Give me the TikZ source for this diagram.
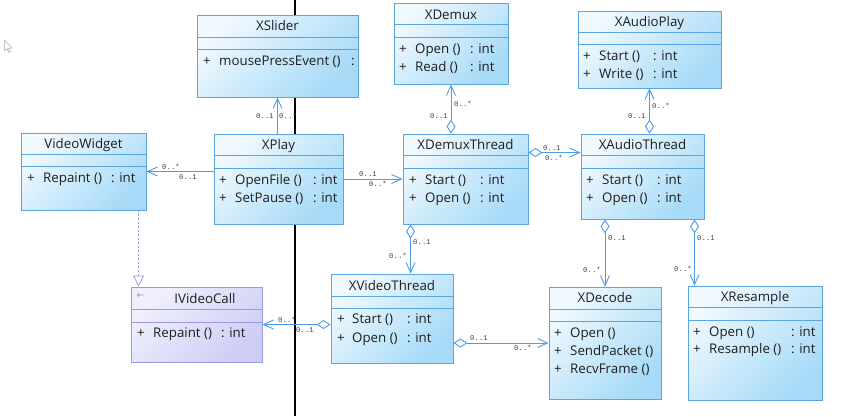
\documentclass[tikz,border=0pt]{standalone}
\usepackage{fontspec}
\setmainfont{Open Sans}
\newfontfamily\multfont{Liberation Mono}
\usetikzlibrary{arrows.meta,fit,calc}
\definecolor{boxlight}{HTML}{F0F9FE}
\definecolor{boxdark}{HTML}{A6DAF7}
\definecolor{boxline}{HTML}{5AA6E4}
\definecolor{ifclight}{HTML}{F0F0FD}
\definecolor{ifcdark}{HTML}{CDCDF6}
\definecolor{ifcline}{HTML}{9A9AE6}
\definecolor{conn}{HTML}{4C9CE8}
\definecolor{txt}{HTML}{1E1E1E}
\begin{document}
\begin{tikzpicture}[x=1pt,y=-1pt,
  classbox/.style={draw=boxline, line width=0.9pt, inner sep=0pt,
    top color=boxlight, bottom color=boxdark, shading angle=45},
  ifcbox/.style={draw=ifcline, line width=0.9pt, inner sep=0pt,
    top color=ifclight, bottom color=ifcdark, shading angle=45},
  sepline/.style={draw=boxline, line width=0.9pt},
  ifcsep/.style={draw=ifcline, line width=0.9pt},
  title/.style={font=\fontsize{13.3}{15}\selectfont, text=txt, inner sep=0pt, anchor=base, yshift=-4.6pt},
  meth/.style={font=\fontsize{13.3}{15}\selectfont, text=txt, inner sep=0pt, anchor=base west, yshift=-4.6pt},
  mult/.style={font=\multfont\fontsize{7.3}{8}\selectfont, text=txt!85, inner sep=0pt, anchor=base, yshift=-2.4pt},
  assoc/.style={draw=conn, line width=0.9pt, -{Straight Barb[length=10pt,width=9pt]}},
  agg/.style={draw=conn, line width=0.9pt,
    {Diamond[fill=white,length=14pt,width=9pt]}-{Straight Barb[length=10pt,width=9pt]}},
  real/.style={draw=ifcline, line width=0.8pt, dash pattern=on 2pt off 2pt,
    -{Triangle[fill=white,length=11pt,width=11pt,line width=0.8pt]}}
]
\useasboundingbox[fill=white] (0,0) rectangle (846,416);

% background vertical line and cursor
\draw[black, line width=1.2pt] (295,0) -- (295,416);
\draw[gray!70, line width=0.5pt, fill=white, line join=round]
  (4.5,40) -- (4.5,51) -- (7,48.5) -- (9,52.5) -- (10.5,51.8) -- (8.5,48) -- (12,48) -- cycle;

% ---------- classes ----------
% XSlider
\node[classbox, fit={(197,15) (358,97)}] (xslider) {};
\draw[sepline] (197,37) -- (358,37);
\draw[sepline] (197,49) -- (358,49);
\node[title] (xslidert) at (277.5,26) {XSlider};
\node[meth] (xslider1p) at (203,61) {+};
\node[meth] (xslider1) at (219,61) {mousePressEvent ()};
\node[meth] (xslider1t) at (351,61) {:};

% XDemux
\node[classbox, fit={(394,3) (508,84)}] (xdemux) {};
\draw[sepline] (394,24) -- (508,24);
\draw[sepline] (394,37) -- (508,37);
\node[title] (xdemuxt) at (451,14.5) {XDemux};
\node[meth] (xdemux1p) at (399,49) {+};
\node[meth] (xdemux1) at (415,49) {Open ()};
\node[meth] (xdemux1t) at (470,49) {: int};
\node[meth] (xdemux2p) at (399,67) {+};
\node[meth] (xdemux2) at (415,67) {Read ()};
\node[meth] (xdemux2t) at (470,67) {: int};

% XAudioPlay
\node[classbox, fit={(578,11) (721,88)}] (xaudioplay) {};
\draw[sepline] (578,32) -- (721,32);
\draw[sepline] (578,44) -- (721,44);
\node[title] (xaudioplayt) at (649.5,22) {XAudioPlay};
\node[meth] (xap1p) at (583,56) {+};
\node[meth] (xap1) at (599,56) {Start ()};
\node[meth] (xap1t) at (653,56) {: int};
\node[meth] (xap2p) at (583,74) {+};
\node[meth] (xap2) at (599,74) {Write ()};
\node[meth] (xap2t) at (653,74) {: int};

% VideoWidget
\node[classbox, fit={(21,133) (146,210)}] (videowidget) {};
\draw[sepline] (21,154) -- (146,154);
\draw[sepline] (21,166) -- (146,166);
\node[title] (videowidgett) at (83.5,144) {VideoWidget};
\node[meth] (vw1p) at (27,178) {+};
\node[meth] (vw1) at (43,178) {Repaint ()};
\node[meth] (vw1t) at (111,178) {: int};

% XPlay
\node[classbox, fit={(214,134) (343,224)}] (xplay) {};
\draw[sepline] (214,155) -- (343,155);
\draw[sepline] (214,168) -- (343,168);
\node[title] (xplayt) at (278.5,145) {XPlay};
\node[meth] (xp1p) at (219,180) {+};
\node[meth] (xp1) at (235,180) {OpenFile ()};
\node[meth] (xp1t) at (313,180) {: int};
\node[meth] (xp2p) at (219,198) {+};
\node[meth] (xp2) at (235,198) {SetPause ()};
\node[meth] (xp2t) at (313,198) {: int};

% XDemuxThread
\node[classbox, fit={(403,134) (528,224)}] (xdemuxthread) {};
\draw[sepline] (403,155) -- (528,155);
\draw[sepline] (403,168) -- (528,168);
\node[title] (xdtt) at (465.5,145) {XDemuxThread};
\node[meth] (xdt1p) at (409,180) {+};
\node[meth] (xdt1) at (425,180) {Start ()};
\node[meth] (xdt1t) at (480,180) {: int};
\node[meth] (xdt2p) at (409,198) {+};
\node[meth] (xdt2) at (425,198) {Open ()};
\node[meth] (xdt2t) at (480,198) {: int};

% XAudioThread
\node[classbox, fit={(581,134) (704,219)}] (xaudiothread) {};
\draw[sepline] (581,155) -- (704,155);
\draw[sepline] (581,168) -- (704,168);
\node[title] (xatt) at (642.5,145) {XAudioThread};
\node[meth] (xat1p) at (586,180) {+};
\node[meth] (xat1) at (602,180) {Start ()};
\node[meth] (xat1t) at (657,180) {: int};
\node[meth] (xat2p) at (586,198) {+};
\node[meth] (xat2) at (602,198) {Open ()};
\node[meth] (xat2t) at (657,198) {: int};

% IVideoCall (interface)
\node[ifcbox, fit={(131,287) (262,362)}] (ivideocall) {};
\draw[ifcsep] (131,309) -- (262,309);
\draw[ifcsep] (131,322) -- (262,322);
\draw[ifcline, line width=0.6pt] (138.5,295) circle (1.4) (139.9,295) -- (144,295);
\node[title] (ivct) at (205,299) {IVideoCall};
\node[meth] (ivc1p) at (137,333) {+};
\node[meth] (ivc1) at (153,333) {Repaint ()};
\node[meth] (ivc1t) at (221,333) {: int};

% XVideoThread
\node[classbox, fit={(331,274) (453,363)}] (xvideothread) {};
\draw[sepline] (331,296) -- (453,296);
\draw[sepline] (331,308) -- (453,308);
\node[title] (xvtt) at (392,285.5) {XVideoThread};
\node[meth] (xvt1p) at (337,319) {+};
\node[meth] (xvt1) at (352,319) {Start ()};
\node[meth] (xvt1t) at (407,319) {: int};
\node[meth] (xvt2p) at (337,338) {+};
\node[meth] (xvt2) at (352,338) {Open ()};
\node[meth] (xvt2t) at (407,338) {: int};

% XDecode
\node[classbox, fit={(549,287) (661,399)}] (xdecode) {};
\draw[sepline] (549,309) -- (661,309);
\draw[sepline] (549,321) -- (661,321);
\node[title] (xdect) at (605,298) {XDecode};
\node[meth] (xdec1p) at (554,333) {+};
\node[meth] (xdec1) at (570,333) {Open ()};
\node[meth] (xdec2p) at (554,351) {+};
\node[meth] (xdec2) at (570,351) {SendPacket ()};
\node[meth] (xdec3p) at (554,369) {+};
\node[meth] (xdec3) at (570,369) {RecvFrame ()};

% XResample
\node[classbox, fit={(688,286) (822,400)}] (xresample) {};
\draw[sepline] (688,307) -- (822,307);
\draw[sepline] (688,320) -- (822,320);
\node[title] (xrest) at (755,297) {XResample};
\node[meth] (xres1p) at (693,332) {+};
\node[meth] (xres1) at (709,332) {Open ()};
\node[meth] (xres1t) at (791,332) {: int};
\node[meth] (xres2p) at (693,349) {+};
\node[meth] (xres2) at (709,349) {Resample ()};
\node[meth] (xres2t) at (791,349) {: int};

% ---------- connector anchor points ----------
\coordinate (dtR) at ($(xdemuxthread.north east)+(0,19)$);
\coordinate (atL) at ($(xaudiothread.north west)+(0,19)$);
\coordinate (dtB) at ($(xdemuxthread.south west)+(8,0)$);
\coordinate (rsT) at ($(xresample.north west)+(7,0)$);
\coordinate (vwB) at ($(videowidget.south west)+(118,0)$);

% ---------- connectors ----------
\draw[assoc] (xplay.north -| xslider.south) -- (xslider.south);
\draw[assoc] (xplay.west |- videowidget.east) -- (videowidget.east);
\draw[assoc] (xplay.east) -- (xdemuxthread.west |- xplay.east);
\draw[agg] (xdemuxthread.north -| xdemux.south) -- (xdemux.south);
\draw[agg] (dtR) -- (atL);
\draw[agg] (xaudiothread.north -| xaudioplay.south) -- (xaudioplay.south);
\draw[agg] (dtB) -- (dtB |- xvideothread.north);
\draw[agg] (xaudiothread.south -| xdecode.north) -- (xdecode.north);
\draw[agg] (rsT |- xaudiothread.south) -- (rsT);
\draw[agg] (xvideothread.west |- ivideocall.east) -- (ivideocall.east);
\draw[agg] (xvideothread.east |- xdecode.west) -- (xdecode.west);
\draw[real] (vwB) -- (vwB |- ivideocall.north);

% ---------- multiplicities ----------
\node[mult] (m1a) at (265,116) {0..1};
\node[mult] (m1b) at (288,116) {0..*};
\node[mult] (m2a) at (171,167) {0..*};
\node[mult] (m2b) at (188,177) {0..1};
\node[mult] (m3a) at (368,174) {0..1};
\node[mult] (m3b) at (378,184) {0..*};
\node[mult] (m4a) at (463,104) {0..*};
\node[mult] (m4b) at (439,116) {0..1};
\node[mult] (m5a) at (552,148) {0..1};
\node[mult] (m5b) at (554,158) {0..*};
\node[mult] (m6a) at (661,106) {0..*};
\node[mult] (m6b) at (637,116) {0..1};
\node[mult] (m7a) at (422,242) {0..1};
\node[mult] (m7b) at (398,256) {0..*};
\node[mult] (m8a) at (617,238) {0..1};
\node[mult] (m8b) at (592,270) {0..*};
\node[mult] (m9a) at (706,238) {0..1};
\node[mult] (m9b) at (683,269) {0..*};
\node[mult] (m10a) at (287,320) {0..*};
\node[mult] (m10b) at (305,330) {0..1};
\node[mult] (m11a) at (479,338) {0..1};
\node[mult] (m11b) at (523,348) {0..*};
\end{tikzpicture}
\end{document}
